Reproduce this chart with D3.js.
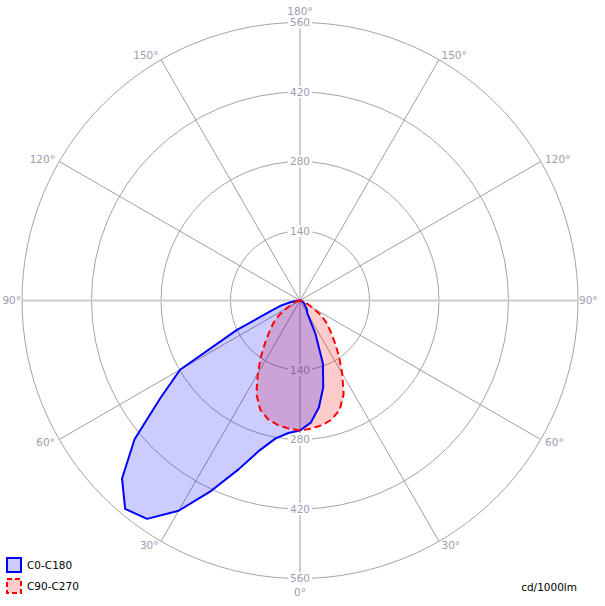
<!DOCTYPE html>
<html><head><meta charset="utf-8">
<script src="https://cdn.jsdelivr.net/npm/d3@7"></script>
<style>body{margin:0;background:#fff}svg{display:block}text{font-family:"DejaVu Sans",sans-serif}</style>
</head><body><svg id="c" width="605" height="606"></svg>
<script>
// gamma angles (deg) and intensities (cd/1000lm)
const gammas = [0,5,10,15,20,25,30,35,40,45,50,55,60,65,70,75,80,85,90];
const c0   = [262,247,219,181,135,73,29,25,20,14,12,10,8,6,5,4,3,2,0];
const c180 = [262,268,282,312,362,423,489,537,548,507,435,344,279,141,63,40,20,7,0];
const c90  = [262,259,255,248,234,208,170,137,108,86,69,52,30,18,12,8,5,2,0];
const c270 = [262,259,255,248,234,208,170,137,108,86,69,52,30,18,12,8,5,2,0];
const rTicks = [140,280,420,560];
const spokeAngles = [0,30,60,90,120,150,180,210,240,270,300,330];
const angleLabels = [
  {a:0,t:"0°"},{a:30,t:"30°"},{a:60,t:"60°"},{a:90,t:"90°"},{a:120,t:"120°"},{a:150,t:"150°"},{a:180,t:"180°"},
  {a:-30,t:"30°"},{a:-60,t:"60°"},{a:-90,t:"90°"},{a:-120,t:"120°"},{a:-150,t:"150°"}];
const seriesNames = ["C0-C180","C90-C270"];

const cx=300, cy=300.5, R=278;
const svg=d3.select("#c");
const r=d3.scaleLinear().domain([0,560]).range([0,R]);
const g=svg.append("g").attr("transform",`translate(${cx},${cy})`);
const rad=d=>d*Math.PI/180;

// circles
g.selectAll("circle.grid").data(rTicks).enter().append("circle")
  .attr("r",d=>r(d)).attr("fill","none").attr("stroke","#a4a4a4").attr("stroke-width",1);
// spokes (gamma measured from bottom, positive to the left)
g.selectAll("line.sp").data(spokeAngles).enter().append("line")
  .attr("x1",0).attr("y1",0)
  .attr("x2",d=>-Math.sin(rad(d))*R).attr("y2",d=>Math.cos(rad(d))*R)
  .attr("stroke",d=>d%90===0?"#cdcdcd":"#a0a0a0")
  .attr("stroke-width",d=>d%90===0?2:1);

// value labels on vertical axis
const vl=[];rTicks.forEach(v=>{vl.push({v,y:-r(v)});vl.push({v,y:r(v)});});
const vg=g.selectAll("g.vl").data(vl).enter().append("g").attr("transform",d=>`translate(0,${d.y})`);
vg.append("rect").attr("x",-12).attr("y",-6).attr("width",24).attr("height",12).attr("fill","#fff");
vg.append("text").text(d=>d.v).attr("text-anchor","middle").attr("dy","0.36em")
  .attr("font-size",10.5).attr("fill","#9c9caf");

// angle labels
const off=d=>Math.abs(d.a)===90?R+1:R+5;
g.selectAll("text.al").data(angleLabels).enter().append("text")
  .text(d=>d.t).attr("font-size",10.5).attr("fill","#9c9caf")
  .attr("x",d=>-Math.sin(rad(d.a))*off(d))
  .attr("y",d=>{const y=Math.cos(rad(d.a))*off(d);return Math.abs(d.a)===180?y-6:(d.a===0?y+9:y);})
  .attr("dy","0.36em")
  .attr("text-anchor",d=>(d.a===0||Math.abs(d.a)===180)?"middle":(d.a>0?"end":"start"));

// series paths: left half (gamma 90 -> 0), right half (0 -> 90)
function pts(left,right){
  const p=[];
  for(let i=gammas.length-1;i>=0;i--)p.push([Math.PI+rad(gammas[i]),r(left[i])]);
  for(let i=0;i<gammas.length;i++)p.push([Math.PI-rad(gammas[i]),r(right[i])]);
  return p;
}
const line=d3.lineRadial().angle(d=>d[0]).radius(d=>d[1]).curve(d3.curveLinearClosed);
const red=pts(c270,c90), blue=pts(c180,c0);
g.append("path").attr("d",line(red)).attr("fill","rgba(255,0,0,0.2)").attr("stroke","none");
g.append("path").attr("d",line(blue)).attr("fill","rgba(0,0,255,0.2)").attr("stroke","none");
g.append("path").attr("d",line(blue)).attr("fill","none").attr("stroke","#0000ff").attr("stroke-width",2).attr("stroke-linejoin","round");
g.append("path").attr("d",line(red)).attr("fill","none").attr("stroke","#ff0000").attr("stroke-width",2).attr("stroke-dasharray","7,4").attr("stroke-linejoin","round");

// legend
const lg=svg.append("g");
const styles=[{s:"#0000ff",f:"#ccccff",d:null},{s:"#ff0000",f:"#ffcccc",d:"5,3"}];
seriesNames.forEach((n,i)=>{
  const y=558+i*21;
  lg.append("rect").attr("x",7).attr("y",y).attr("width",14).attr("height",14)
    .attr("fill",styles[i].f).attr("stroke",styles[i].s).attr("stroke-width",2)
    .attr("stroke-dasharray",styles[i].d);
  lg.append("text").attr("x",27).attr("y",y+7).attr("dy","0.36em").attr("font-size",10.5).attr("fill","#000").text(n);
});
svg.append("text").attr("x",577).attr("y",587).attr("dy","0.36em").attr("text-anchor","end")
  .attr("font-size",10.5).attr("fill","#000").text("cd/1000lm");
</script></body></html>
